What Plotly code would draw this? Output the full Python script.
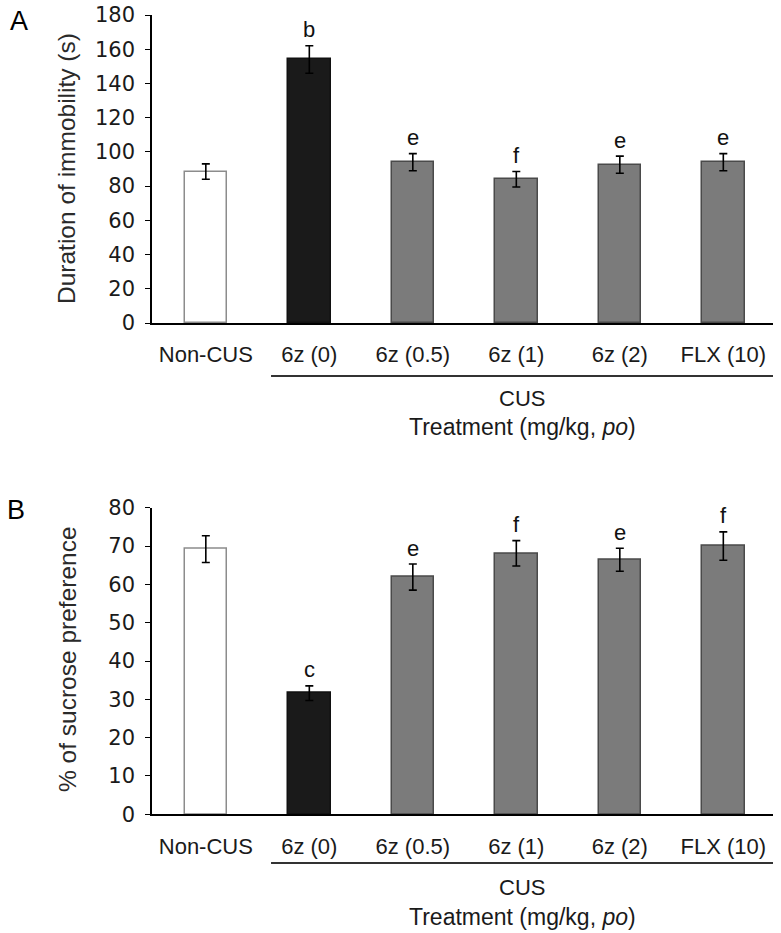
import plotly.graph_objects as go

categories = ["Non-CUS", "6z (0)", "6z (0.5)", "6z (1)", "6z (2)", "FLX (10)"]
immobility_mean = [88.5, 154, 94, 84, 92.5, 94]
immobility_err = [4.5, 8, 5, 4.5, 5, 5]
immobility_sig = ["", "b", "e", "f", "e", "e"]
sucrose_mean = [69.2, 31.6, 61.9, 68.1, 66.4, 70.0]
sucrose_err = [3.5, 1.9, 3.4, 3.3, 3.0, 3.7]
sucrose_sig = ["", "c", "e", "f", "e", "f"]
ticks_A = [0, 20, 40, 60, 80, 100, 120, 140, 160, 180]
ticks_B = [0, 10, 20, 30, 40, 50, 60, 70, 80]

W, H = 781, 933
fill = ["white", "#1a1a1a", "#7b7b7b", "#7b7b7b", "#7b7b7b", "#7b7b7b"]
edge = ["#8c8c8c", "#111111", "#4a4a4a", "#4a4a4a", "#4a4a4a", "#4a4a4a"]
xidx = list(range(len(categories)))

fig = go.Figure()
for means, errs, xa, ya in [(immobility_mean, immobility_err, "x", "y"),
                            (sucrose_mean, sucrose_err, "x2", "y2")]:
    fig.add_trace(go.Bar(
        x=xidx, y=means, width=0.41, xaxis=xa, yaxis=ya,
        marker=dict(color=fill, line=dict(color=edge, width=1.5)),
        error_y=dict(type="data", array=errs, color="black", thickness=1.6, width=4),
        showlegend=False))

def px_x(p):
    return p / W

def px_y(p):
    return 1 - p / H

xdom = [px_x(152), px_x(773)]
xr = [-0.52, 5.48]
tickfont_num = dict(family="DejaVu Sans", size=21, color="#1a1a1a")
catfont = dict(family="Liberation Sans, Arial", size=22, color="#1a1a1a")

common_x = dict(range=xr, domain=xdom, tickmode="array", tickvals=xidx, ticktext=categories,
                showline=True, linecolor="black", linewidth=1.6, ticks="", showgrid=False,
                zeroline=False, tickfont=catfont, ticklabelstandoff=11, fixedrange=True,
                automargin=False, ticklabeloverflow="allow")
common_y = dict(showline=True, linecolor="black", linewidth=1.6, ticks="outside", ticklen=5,
                tickwidth=1.4, tickcolor="black", showgrid=False, zeroline=False,
                tickfont=tickfont_num, ticklabelstandoff=6, fixedrange=True, automargin=False,
                ticklabeloverflow="allow")

fig.update_layout(
    template="none",
    width=W, height=H, margin=dict(l=0, r=0, t=0, b=0, pad=0, autoexpand=False),
    plot_bgcolor="white", paper_bgcolor="white",
    xaxis=dict(**common_x, anchor="y"),
    yaxis=dict(**common_y, range=[0, 180], tickvals=ticks_A, domain=[px_y(323), px_y(15)], anchor="x"),
    xaxis2=dict(**common_x, anchor="y2"),
    yaxis2=dict(**common_y, range=[0, 80], tickvals=ticks_B, domain=[px_y(814.3), px_y(507.7)], anchor="x2"),
    bargap=0,
)

ann = []
letfont = dict(family="Liberation Sans, Arial", size=22, color="#111")
for means, errs, sig, xa, ya in [(immobility_mean, immobility_err, immobility_sig, "x", "y"),
                                 (sucrose_mean, sucrose_err, sucrose_sig, "x2", "y2")]:
    for i, s in enumerate(sig):
        if s:
            ann.append(dict(x=i, y=means[i] + errs[i], xref=xa, yref=ya, text=s, showarrow=False,
                            xanchor="center", yanchor="middle", yshift=16, font=letfont))

titlefont = dict(family="Liberation Sans, Arial", size=24.5, color="#2a2a2a")
# y-axis titles
ann.append(dict(x=px_x(66), y=px_y(169), xref="paper", yref="paper", text="Duration of immobility (s)",
                textangle=-90, showarrow=False, xanchor="center", yanchor="middle", font=titlefont))
ann.append(dict(x=px_x(67), y=px_y(659), xref="paper", yref="paper", text="% of sucrose preference",
                textangle=-90, showarrow=False, xanchor="center", yanchor="middle", font=titlefont))
# panel letters
ann.append(dict(x=px_x(19), y=px_y(21), xref="paper", yref="paper", text="A", showarrow=False,
                xanchor="center", yanchor="middle",
                font=dict(family="Liberation Sans, Arial", size=27, color="black")))
ann.append(dict(x=px_x(16), y=px_y(510), xref="paper", yref="paper", text="B", showarrow=False,
                xanchor="center", yanchor="middle",
                font=dict(family="Liberation Sans, Arial", size=27, color="black")))

cus_x0, cus_x1 = 0.63, 5.48
cus_mid = (cus_x0 + cus_x1) / 2
shapes = []
for xa, line_y, cus_y, tr_y in [("x", 376, 398, 427), ("x2", 863, 887, 917)]:
    shapes.append(dict(type="line", xref=xa, yref="paper", x0=cus_x0, x1=cus_x1,
                       y0=px_y(line_y), y1=px_y(line_y), line=dict(color="#333", width=2)))
    ann.append(dict(x=cus_mid, y=px_y(cus_y), xref=xa, yref="paper", text="CUS", showarrow=False,
                    xanchor="center", yanchor="middle", font=catfont))
    ann.append(dict(x=cus_mid, y=px_y(tr_y), xref=xa, yref="paper",
                    text="Treatment (mg/kg, <i>po</i>)", showarrow=False,
                    xanchor="center", yanchor="middle",
                    font=dict(family="Liberation Sans, Arial", size=23, color="#1a1a1a")))

fig.update_layout(annotations=ann, shapes=shapes)
fig.write_html("out.html", config={"displayModeBar": False},
               post_script="document.body.style.margin='0';document.body.style.overflow='hidden';")
